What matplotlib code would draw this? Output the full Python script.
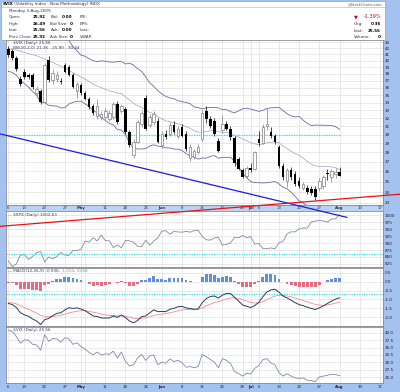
import numpy as np
import pandas as pd
import matplotlib
matplotlib.use("Agg")
import matplotlib.pyplot as plt
from matplotlib.patches import Rectangle
from matplotlib.lines import Line2D
from matplotlib.ticker import NullLocator

W, H = 400, 392
BG = "#a3c2f0"
GRID = "#e0e0e0"
FS = 3.0

# ---- data ----
holidays = ["2009-04-10", "2009-05-25", "2009-07-03"]
tick_days = ["2009-04-06", "2009-04-13", "2009-04-20", "2009-04-27", "2009-05-01",
             "2009-05-11", "2009-05-18", "2009-05-26", "2009-06-01", "2009-06-08",
             "2009-06-15", "2009-06-22", "2009-06-29", "2009-07-01", "2009-07-06",
             "2009-07-13", "2009-07-20", "2009-07-27", "2009-08-03", "2009-08-10",
             "2009-08-17"]
tick_text = ["6", "13", "20", "27", "May", "11", "18", "26", "Jun", "8", "15", "22",
             "29", "Jul", "6", "13", "20", "27", "Aug", "10", "17"]

# Feb/Mar 2009 closes, not drawn - they only feed the BB(20) and MACD warm-up
warmup_close = [47.4, 45.1, 45.1, 45.4, 44.8, 44.4, 48.4, 44.9, 45.2, 43.2,
                50.7, 49.1, 49.1, 51.3, 54.6, 48.5, 46.7, 46.8, 48.4,
                53.5, 52.0, 48.0, 51.5, 50.5, 51.0,
                43.0, 42.0, 40.0, 41.0, 41.5, 39.5, 39.0, 39.5, 44.0,
                42.5, 44.0, 44.0, 42.0, 43.0, 45.5, 44.1, 42.3, 42.0, 39.7]

vix_open = [41.9, 41.5, 40.4, 37.3, 38.3, 37.9, 37.9, 35.3, 35.5, 34.1,
            40.2, 37.1, 37.3, 37.0, 39.4, 39.0, 37.9, 35.6, 36.4, 35.3,
            34.5, 33.5, 32.3, 32.2, 32.2, 31.9, 32.2, 33.8, 32.9, 33.1,
            30.3, 27.7, 29.2, 31.3, 34.6, 31.2, 31.5, 31.7, 28.8, 30.1,
            30.1, 31.2, 29.9, 30.9, 30.1, 27.4, 27.5, 28.1, 29.5, 32.9,
            31.9, 31.7, 29.3, 30.5, 31.3, 30.7, 29.6, 27.3, 26.2, 25.5,
            26.4, 26.3, 29.5, 29.1, 31.0, 30.3, 29.8, 28.6, 26.6, 25.1,
            26.2, 25.7, 25.1, 24.4, 24.4, 24.3, 24.3, 24.4, 24.6, 25.8,
            25.4, 25.7, 25.92]
vix_high = [42.4, 41.9, 40.8, 37.7, 38.7, 38.1, 38.2, 36.3, 35.8, 39.7,
            40.7, 38.7, 38.4, 37.4, 39.7, 39.3, 38.1, 36.9, 36.7, 35.6,
            34.8, 33.8, 34.5, 32.9, 33.3, 33.0, 34.1, 34.2, 33.8, 33.4,
            30.6, 29.5, 31.8, 33.0, 35.0, 32.5, 32.9, 32.0, 30.4, 30.5,
            31.5, 31.6, 31.0, 31.3, 30.4, 28.9, 28.4, 28.9, 33.0, 33.5,
            32.3, 32.0, 29.6, 32.4, 31.7, 31.0, 29.8, 27.5, 26.4, 26.6,
            26.9, 28.2, 30.4, 31.3, 33.3, 30.9, 30.1, 28.8, 26.9, 26.4,
            26.5, 26.0, 25.4, 25.0, 24.7, 24.6, 24.6, 25.3, 25.6, 26.3,
            26.3, 26.4, 26.49]
vix_low = [40.6, 40.1, 38.4, 36.2, 37.3, 37.2, 35.9, 34.9, 33.8, 33.9,
           36.8, 36.6, 36.9, 36.5, 38.1, 37.7, 36.0, 34.6, 35.0, 34.3,
           33.2, 32.4, 31.9, 31.8, 31.9, 31.6, 31.9, 31.3, 32.6, 30.1,
           28.6, 27.4, 29.0, 30.9, 30.5, 30.9, 31.2, 29.0, 28.5, 29.5,
           29.9, 30.1, 29.6, 29.7, 28.2, 27.1, 27.3, 27.8, 29.3, 31.4,
           30.8, 29.9, 28.0, 30.2, 30.5, 29.4, 26.6, 26.1, 25.3, 25.3,
           25.9, 26.1, 28.7, 28.9, 30.6, 29.6, 28.9, 26.4, 25.2, 24.5,
           25.2, 24.6, 24.4, 24.2, 23.8, 23.7, 23.3, 24.1, 24.3, 25.2,
           25.0, 25.3, 25.56]
vix_close = [40.9, 40.4, 38.7, 36.5, 37.6, 37.5, 36.1, 35.9, 34.1, 39.3,
             37.1, 38.1, 37.9, 36.8, 38.3, 37.9, 36.1, 36.6, 35.3, 34.5,
             33.4, 32.6, 33.5, 32.5, 32.9, 32.7, 33.8, 31.5, 33.5, 30.3,
             28.8, 29.2, 31.5, 32.7, 30.7, 32.2, 32.5, 29.2, 30.1, 29.7,
             31.2, 30.3, 30.7, 29.9, 28.4, 28.6, 28.2, 28.6, 32.7, 31.9,
             31.0, 30.1, 28.2, 31.3, 30.7, 29.7, 26.9, 26.3, 25.4, 26.4,
             26.1, 28.0, 29.0, 30.9, 31.3, 29.8, 29.2, 26.6, 25.4, 26.2,
             25.4, 24.8, 24.6, 24.8, 24.0, 23.9, 23.5, 25.1, 25.4, 25.7,
             26.0, 25.92, 25.56]
spx_close = [835.48, 815.55, 825.16, 856.56, 858.73, 841.50, 852.06, 865.30, 869.60, 832.39,
             850.08, 843.55, 851.92, 866.23, 857.51, 855.16, 873.64, 872.81, 877.52, 907.24,
             903.80, 919.53, 907.39, 929.23, 909.24, 908.35, 883.92, 893.07, 882.88, 909.71,
             908.13, 903.47, 888.33, 887.00, 910.33, 893.06, 906.83, 919.14, 942.87, 944.74,
             931.76, 942.46, 940.09, 939.14, 942.43, 939.15, 944.89, 946.21, 923.72, 911.97,
             910.71, 918.37, 921.23, 893.04, 895.10, 900.94, 920.26, 918.90, 927.23, 919.32,
             923.33, 896.42, 898.72, 881.03, 879.56, 882.68, 879.13, 901.05, 905.84, 932.68,
             940.74, 940.38, 951.13, 954.58, 954.07, 976.29, 979.26, 982.18, 979.62, 975.15,
             986.75, 987.48, 1002.63]

# hand-drawn trend lines: (trading-day index, VIX level) at both ends
trend_blue = ([-2.05, 83.8], [30.1, 21.75])
trend_red = ([-2.05, 96.95], [21.0, 23.8])
vix_level_line = 30
spx_level_line = 860
macd_level_line = -0.71

# ---- derived series ----
days = pd.bdate_range("2009-04-06", "2009-08-21")
days = days[~days.isin(pd.to_datetime(holidays))]
n = len(vix_close)
x = np.arange(n)
tick_pos = [days.get_loc(pd.Timestamp(d)) for d in tick_days]
grid_pos = [i for i in range(len(days))
            if i == 0 or days[i].week != days[i - 1].week or days[i].month != days[i - 1].month]

full = pd.Series(warmup_close + vix_close)
bb_mid = full.rolling(20).mean()
bb_sd = full.rolling(20).std(ddof=0)
bb_up = (bb_mid + 2 * bb_sd).iloc[-n:].values
bb_dn = (bb_mid - 2 * bb_sd).iloc[-n:].values
bb_mid = bb_mid.iloc[-n:].values
macd = full.ewm(span=12, adjust=False).mean() - full.ewm(span=26, adjust=False).mean()
signal = macd.ewm(span=9, adjust=False).mean()
hist = (macd - signal).iloc[-n:].values
macd = macd.iloc[-n:].values
signal = signal.iloc[-n:].values

o, h, l, c = (np.array(a) for a in (vix_open, vix_high, vix_low, vix_close))

# ---- figure ----
fig = plt.figure(figsize=(W / 100, H / 100), dpi=100, facecolor=BG)
plt.rcParams["font.family"] = ["DejaVu Sans"]


def box(left, top, right, bottom):
    return [left / W, 1 - bottom / H, (right - left) / W, (bottom - top) / H]


def ptext(px, py, s, **kw):
    kw.setdefault("fontsize", FS)
    kw.setdefault("va", "center")
    return fig.text(px / W, 1 - py / H, s, **kw)


def chain(px, py, parts, size=FS):
    t = ptext(px, py, parts[0][0], color=parts[0][1], fontsize=size, **parts[0][2])
    for s, col, extra in parts[1:]:
        t = fig.axes[0].annotate(s, xy=(1, 0.5), xycoords=t, va="center", ha="left",
                                 color=col, fontsize=size, annotation_clip=False, **extra)
    return t


def panel(top, bottom, ylim, yticks, ylabels, log=False):
    ax = fig.add_axes(box(6, top, 383, bottom))
    ax.set_facecolor("white")
    if log:
        ax.set_yscale("log")
    ax.set_xlim(-0.57, 92.75)
    ax.set_ylim(*ylim)
    ax.set_xticks(grid_pos)
    ax.set_xticklabels([])
    ax.set_yticks(yticks)
    ax.set_yticklabels(ylabels)
    ax.yaxis.set_minor_locator(NullLocator())
    ax.xaxis.set_minor_locator(NullLocator())
    ax.yaxis.tick_right()
    ax.tick_params(length=0, labelsize=FS, pad=1.2, labelcolor="#222222")
    ax.grid(True, color=GRID, lw=0.5)
    ax.set_axisbelow(True)
    for s in ax.spines.values():
        s.set_color("#8c8c8c")
        s.set_linewidth(0.6)
    return ax


# header box
fig.patches.append(Rectangle((1 / W, 1 - 39.5 / H), 384 / W, 38.5 / H, transform=fig.transFigure,
                             facecolor="white", edgecolor="#a0a0a0", lw=0.5))
fig.lines.append(Line2D([1 / W, 385 / W], [1 - 7 / H, 1 - 7 / H], transform=fig.transFigure,
                        color="#b0b0b0", lw=0.4))

# main price panel
ax = panel(39.5, 205, (22.82, 43.46), list(range(23, 44)), [str(v) for v in range(23, 44)], log=True)
ax.set_zorder(5)
ax.plot(x, bb_up, color="#6a6aa8", lw=0.6)
ax.plot(x, bb_dn, color="#6a6aa8", lw=0.6)
ax.plot(x, bb_mid, color="#a0a0c4", lw=0.5)
ax.hlines(vix_level_line, -0.57, n - 1, color="#33e0e6", lw=0.9, linestyles=(0, (1, 1)))
up = c >= o
ax.vlines(x[up], l[up], h[up], color="#808080", lw=0.5, zorder=3)
ax.vlines(x[~up], l[~up], h[~up], color="black", lw=0.5, zorder=3)
ax.bar(x[up], (c - o)[up], bottom=o[up], width=0.62, facecolor="white",
       edgecolor="#808080", lw=0.5, zorder=4)
ax.bar(x[~up], (o - c)[~up], bottom=c[~up], width=0.62, color="black", lw=0, zorder=4)
ax.plot(*trend_blue, color="#1a1ae0", lw=0.9, clip_on=False, zorder=10)
ax.plot(*trend_red, color="#ee1111", lw=0.9, clip_on=False, zorder=10)

# date strip between price and SPX panels
axs = fig.add_axes(box(6, 205, 383, 211))
axs.set_facecolor("#bad2f4")
axs.set_xlim(-0.57, 92.75)
axs.set_ylim(0, 1)
axs.set_xticks([])
axs.set_yticks([])
for s in axs.spines.values():
    s.set_color("#8c9fc0")
    s.set_linewidth(0.5)
for p, t in zip(tick_pos, tick_text):
    axs.text(p, 0.45, t, ha="center", va="center", fontsize=2.8, color="#333333",
             weight="bold" if not t.isdigit() else "normal")

# SPX panel
ax2 = panel(211, 267, (814, 1015.5), list(range(825, 1001, 25)), [str(v) for v in range(825, 1001, 25)])
ax2.plot(x, spx_close, color="#7d88aa", lw=0.6)
ax2.axhline(spx_level_line, color="#33e0e6", lw=0.9, ls=(0, (1, 1)))

# MACD panel
macd_ticks = [0.5, 0.0, -0.5, -1.0, -1.5, -2.0]
ax3 = panel(268, 326, (-2.511, 0.784), macd_ticks, [f"{v:.1f}" for v in macd_ticks])
ax3.bar(x, hist, width=0.7, color=np.where(hist >= 0, "#5f90dc", "#e86a80"), lw=0)
ax3.axhline(macd_level_line, color="#33e0e6", lw=0.9, ls=(0, (1, 1)))
ax3.plot(x, signal, color="#f28c8c", lw=0.6)
ax3.plot(x, macd, color="#2c3766", lw=0.7)

# VIX close line panel
vt = [40.0, 37.5, 35.0, 32.5, 30.0, 27.5, 25.0]
ax4 = panel(327, 383, (23.08, 41.92), vt, [f"{v:.1f}" for v in vt])
ax4.plot(x, vix_close, color="#7d88aa", lw=0.6)
for p, t in zip(tick_pos, tick_text):
    ax4.text(p, -0.065, t, transform=ax4.get_xaxis_transform(), ha="center", va="center",
             fontsize=2.8, color="#222222", weight="bold" if not t.isdigit() else "normal")

# header text
chain(2.5, 4.2, [("$VIX", "black", {"weight": "bold"}),
                 (" (Volatility Index - New Methodology) INDX", "#333333", {})], size=3.0)
ptext(383, 4.5, "@StockCharts.com", ha="right", fontsize=2.6, color="#555555")
ptext(9, 11, "Monday 3-Aug-2009", color="#333333")
rows = [("Open:", "25.92", "Bid:", "0.00", "P/E:"),
        ("High:", "26.49", "Bid Size:", "0", "EPS:"),
        ("Low:", "25.56", "Ask:", "0.00", "Last:"),
        ("Prev Close:", "25.92", "Ask Size:", "0", "VWAP:")]
for k, (a, av, b, bv, e) in enumerate(rows):
    yy = 17.3 + k * 6.4
    ptext(9, yy, a, color="#333333")
    ptext(45.5, yy, av, ha="right", weight="bold")
    ptext(50.5, yy, b, color="#333333")
    ptext(72.5, yy, bv, ha="right", weight="bold")
    ptext(80, yy, e, color="#333333")
ptext(354, 16.6, "▼", color="#a0102a", fontsize=3.6)
ptext(381, 16.6, "-1.39%", ha="right", color="#a0102a", fontsize=3.6)
for k, (a, av) in enumerate([("Chg:", "0.36"), ("Last:", "25.56"), ("Volume:", "0")]):
    yy = 24 + k * 6.5
    ptext(354, yy, a, color="#333333")
    ptext(381, yy, av, ha="right", weight="bold")

# panel legends
chain(8, 43.3, [("■", "black", {}), (" $VIX (Daily) 25.56", "#3a3a5a", {})])
chain(8, 47.8, [("—", "#6a6aa8", {}), (" BB(20,2.0) 21.36 - 25.90 - 30.44", "#3a3a5a", {})])
chain(8, 215, [("—", "#7d88aa", {}), (" $SPX (Daily) 1002.63", "#3a3a5a", {})])
chain(8, 271.5, [("—", "#2c3766", {}), (" MACD(12,26,9) -0.936, ", "#3a3a5a", {}),
                 ("-1.204", "#f07070", {}), (", ", "#3a3a5a", {}), ("0.268", "#5f90dc", {})])
chain(8, 330.5, [("—", "#7d88aa", {}), (" $VIX (Daily) 25.56", "#3a3a5a", {})])

fig.savefig("out.png", dpi=100, facecolor=BG)
